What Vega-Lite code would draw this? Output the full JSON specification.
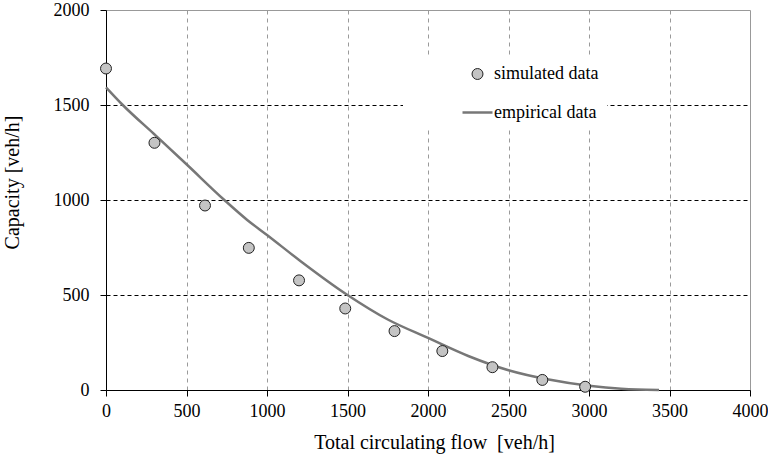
{
  "$schema": "https://vega.github.io/schema/vega-lite/v6.json",
  "description": "Capacity versus total circulating flow: simulated points and empirical curve.",
  "width": 644,
  "height": 380,
  "autosize": "none",
  "padding": {"left": 106, "top": 10, "right": 18, "bottom": 74},
  "background": "white",
  "config": {
    "view": {"stroke": "#999999", "strokeWidth": 1},
    "font": "Liberation Serif",
    "axis": {"labelFont": "Liberation Serif", "titleFont": "Liberation Serif"},
    "legend": {"labelFont": "Liberation Serif", "titleFont": "Liberation Serif"}
  },
  "datasets": {
    "simulated": [
      {"flow": 0, "capacity": 1692, "series": "simulated data"},
      {"flow": 301, "capacity": 1301, "series": "simulated data"},
      {"flow": 615, "capacity": 971, "series": "simulated data"},
      {"flow": 887, "capacity": 748, "series": "simulated data"},
      {"flow": 1199, "capacity": 577, "series": "simulated data"},
      {"flow": 1486, "capacity": 429, "series": "simulated data"},
      {"flow": 1792, "capacity": 310, "series": "simulated data"},
      {"flow": 2089, "capacity": 205, "series": "simulated data"},
      {"flow": 2400, "capacity": 120, "series": "simulated data"},
      {"flow": 2710, "capacity": 53, "series": "simulated data"},
      {"flow": 2976, "capacity": 17, "series": "simulated data"}
    ],
    "empirical": [
      {"flow": 0, "capacity": 1593},
      {"flow": 104, "capacity": 1500},
      {"flow": 300, "capacity": 1346},
      {"flow": 500, "capacity": 1188},
      {"flow": 735, "capacity": 1000},
      {"flow": 877, "capacity": 895},
      {"flow": 1000, "capacity": 816},
      {"flow": 1209, "capacity": 678},
      {"flow": 1500, "capacity": 500},
      {"flow": 1750, "capacity": 371},
      {"flow": 2000, "capacity": 274},
      {"flow": 2250, "capacity": 179},
      {"flow": 2500, "capacity": 104},
      {"flow": 2750, "capacity": 55},
      {"flow": 3000, "capacity": 22},
      {"flow": 3200, "capacity": 6},
      {"flow": 3300, "capacity": 2},
      {"flow": 3435, "capacity": 0}
    ]
  },
  "encoding": {
    "x": {
      "field": "flow",
      "type": "quantitative",
      "title": "Total circulating flow \u00a0[veh/h]",
      "scale": {"domain": [0, 4000], "nice": false, "zero": false},
      "axis": {
        "values": [0, 500, 1000, 1500, 2000, 2500, 3000, 3500, 4000],
        "format": "d",
        "labelFlush": false,
        "labelOverlap": false,
        "domainColor": "black",
        "tickColor": "black",
        "tickSize": 6,
        "labelFont": "Liberation Serif",
        "labelFontSize": 18,
        "labelColor": "black",
        "labelPadding": 6,
        "titleFont": "Liberation Serif",
        "titleFontSize": 20,
        "titleFontWeight": "normal",
        "titleColor": "black",
        "titlePadding": 12,
        "titleX": 328,
        "grid": true,
        "gridColor": "#9a9a9a",
        "gridDash": [4, 4],
        "gridOpacity": {"condition": {"test": "datum.value === 4000 || datum.value === 0", "value": 0}, "value": 1}
      }
    },
    "y": {
      "field": "capacity",
      "type": "quantitative",
      "title": "Capacity [veh/h]",
      "scale": {"domain": [0, 2000], "nice": false},
      "axis": {
        "values": [0, 500, 1000, 1500, 2000],
        "format": "d",
        "labelFlush": false,
        "labelOverlap": false,
        "domainColor": "black",
        "tickColor": "black",
        "tickSize": 6,
        "labelFont": "Liberation Serif",
        "labelFontSize": 18,
        "labelColor": "black",
        "labelPadding": 11,
        "titleFont": "Liberation Serif",
        "titleFontSize": 20,
        "titleFontWeight": "normal",
        "titleColor": "black",
        "titlePadding": 31,
        "titleY": 172,
        "grid": true,
        "gridColor": "black",
        "gridDash": [4, 3],
        "gridOpacity": {"condition": {"test": "datum.value === 2000 || datum.value === 0", "value": 0}, "value": 1}
      }
    }
  },
  "layer": [
    {
      "data": {"name": "empirical"},
      "mark": {"type": "line", "color": "#777777", "strokeWidth": 2.5, "interpolate": "monotone"}
    },
    {
      "data": {"name": "simulated"},
      "mark": {"type": "point", "filled": true, "opacity": 1},
      "encoding": {
        "fill": {
          "field": "series",
          "type": "nominal",
          "title": null,
          "scale": {"domain": ["simulated data", "empirical data"], "range": ["#c4c4c4", "#777777"]}
        },
        "stroke": {
          "field": "series",
          "type": "nominal",
          "title": null,
          "scale": {"domain": ["simulated data", "empirical data"], "range": ["#222222", "#777777"]}
        },
        "shape": {
          "field": "series",
          "type": "nominal",
          "title": null,
          "scale": {"domain": ["simulated data", "empirical data"], "range": ["circle", "stroke"]}
        },
        "size": {
          "field": "series",
          "type": "nominal",
          "title": null,
          "scale": {"domain": ["simulated data", "empirical data"], "range": [120, 900]},
          "legend": {
            "orient": "none",
            "legendX": 297,
            "legendY": 47,
            "padding": 8,
            "symbolOffset": 50,
            "fillColor": "white",
            "strokeColor": null,
            "labelFont": "Liberation Serif",
            "labelFontSize": 18,
            "labelColor": "black",
            "labelOffset": 0,
            "labelLimit": 400,
            "rowPadding": 13
          }
        },
        "strokeWidth": {
          "field": "series",
          "type": "nominal",
          "title": null,
          "scale": {"domain": ["simulated data", "empirical data"], "range": [1, 2.5]}
        }
      }
    }
  ]
}
